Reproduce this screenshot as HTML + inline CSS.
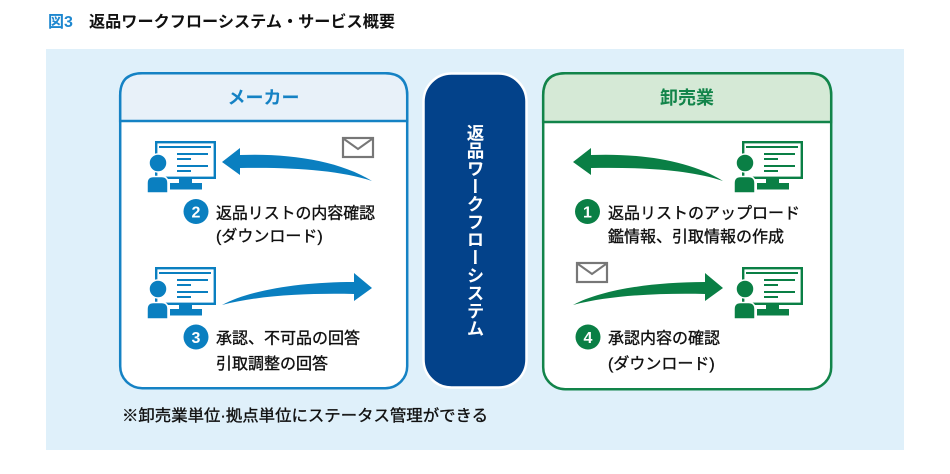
<!DOCTYPE html>
<html><head><meta charset="utf-8">
<style>
html,body{margin:0;padding:0;background:#fff;}
body{width:950px;height:474px;position:relative;overflow:hidden;}
svg{position:absolute;left:0;top:0;}
text{font-family:"Liberation Sans","Noto Sans CJK JP",sans-serif;}
.lb{stroke:#111;stroke-width:0.35px;}
.vt{position:absolute;left:464px;top:124px;width:22px;writing-mode:vertical-rl;font-family:"Noto Sans CJK JP",sans-serif;font-weight:bold;font-size:17.5px;line-height:22px;color:#fff;letter-spacing:0.3px;}
</style></head>
<body>
<svg width="950" height="474" viewBox="0 0 950 474" xmlns="http://www.w3.org/2000/svg">
<defs>
<g id="pc">
 <rect x="156.2" y="142.2" width="58.6" height="35.6" fill="none" stroke="currentColor" stroke-width="2.4"/>
 <rect x="159" y="146" width="52" height="2" fill="currentColor"/>
 <rect x="177" y="153" width="31" height="2" fill="currentColor"/>
 <rect x="177" y="158" width="14" height="2" fill="currentColor"/>
 <rect x="177" y="165" width="31" height="2" fill="currentColor"/>
 <rect x="177" y="170" width="14" height="2" fill="currentColor"/>
 <rect x="179" y="178" width="13" height="6" fill="currentColor"/>
 <rect x="170" y="183" width="32" height="6.5" fill="currentColor"/>
 <path d="M147,193 L147,183 Q147,176.5 153.5,176.5 L161.5,176.5 Q168,176.5 168,183 L168,193 Z" fill="currentColor" stroke="#fff" stroke-width="1.5"/>
 <circle cx="158" cy="163" r="9" fill="currentColor" stroke="#fff" stroke-width="1.5"/>
</g>
<g id="env">
 <rect x="0" y="0" width="30" height="19" fill="#fff" stroke="#777" stroke-width="2.2"/>
 <path d="M1,1 L15,11 L29,1" fill="none" stroke="#777" stroke-width="2"/>
</g>
</defs>

<rect x="46" y="49" width="858" height="401" fill="#dff0fa"/>

<text x="48" y="27" font-size="16" font-weight="bold" fill="#1d87cf">図3</text>
<text x="89" y="27" font-size="16" font-weight="bold" fill="#111" textLength="306" lengthAdjust="spacingAndGlyphs">返品ワークフローシステム・サービス概要</text>

<rect x="120.2" y="73.2" width="287" height="315" rx="22" fill="#fff" stroke="#1582c4" stroke-width="2.5"/>
<path d="M120.2,121 L120.2,95.2 Q120.2,73.2 142.2,73.2 L385.2,73.2 Q407.2,73.2 407.2,95.2 L407.2,121 Z" fill="#e8f1f9" stroke="#1582c4" stroke-width="2.5"/>
<text x="263.5" y="104" font-size="18" font-weight="bold" fill="#1582c4" text-anchor="middle">メーカー</text>

<rect x="543.2" y="73.2" width="288" height="316" rx="22" fill="#fff" stroke="#12844a" stroke-width="2.5"/>
<path d="M543.2,122 L543.2,95.2 Q543.2,73.2 565.2,73.2 L809.2,73.2 Q831.2,73.2 831.2,95.2 L831.2,122 Z" fill="#d5e9d6" stroke="#12844a" stroke-width="2.5"/>
<text x="687" y="104" font-size="18" font-weight="bold" fill="#12844a" text-anchor="middle">卸売業</text>

<rect x="423.5" y="73.5" width="103" height="314" rx="28" fill="#03428a" stroke="#fff" stroke-width="2.5"/>

<use href="#pc" style="color:#0a7fc0"/>
<use href="#pc" transform="translate(0,126)" style="color:#0a7fc0"/>
<use href="#env" transform="translate(343,138)"/>

<path d="M222,162 L240,148 L240,155 C290,153 340,161 372,181 C340,170 290,167 240,168 L240,175 Z" fill="#0a7fc0"/>
<path d="M222,305 C250,290 300,282 354,282 L354,273 L372,288 L354,301 L354,294 C310,293 260,295 222,305 Z" fill="#0a7fc0"/>

<circle cx="196" cy="211.5" r="12.5" fill="#0a7fc0"/>
<text x="196" y="217.5" font-size="16" font-weight="bold" fill="#fff" text-anchor="middle">2</text>
<text class="lb" x="216" y="218.5" font-size="16" fill="#111" textLength="159" lengthAdjust="spacingAndGlyphs">返品リストの内容確認</text>
<text class="lb" x="216" y="241.5" font-size="16" fill="#111">(ダウンロード)</text>

<circle cx="196" cy="337" r="12.5" fill="#0a7fc0"/>
<text x="196" y="343" font-size="16" font-weight="bold" fill="#fff" text-anchor="middle">3</text>
<text class="lb" x="216" y="343.5" font-size="16" fill="#111">承認、不可品の回答</text>
<text class="lb" x="216" y="369" font-size="16" fill="#111">引取調整の回答</text>

<use href="#pc" transform="translate(587,0)" style="color:#0a7f45"/>
<use href="#pc" transform="translate(587,126)" style="color:#0a7f45"/>
<use href="#env" transform="translate(577,263)"/>

<path d="M573,162 L591,148 L591,155 C641,153 691,161 723,181 C691,170 641,167 591,168 L591,175 Z" fill="#0a7f45"/>
<path d="M573,305 C601,290 651,282 705,282 L705,273 L723,288 L705,301 L705,294 C661,293 611,295 573,305 Z" fill="#0a7f45"/>

<circle cx="587.5" cy="211.5" r="12.5" fill="#0a7f45"/>
<text x="587.5" y="217.5" font-size="16" font-weight="bold" fill="#fff" text-anchor="middle">1</text>
<text class="lb" x="608" y="218.5" font-size="16" fill="#111">返品リストのアップロード</text>
<text class="lb" x="608" y="242" font-size="16" fill="#111">鑑情報、引取情報の作成</text>

<circle cx="588" cy="337" r="12.5" fill="#0a7f45"/>
<text x="588" y="343" font-size="16" font-weight="bold" fill="#fff" text-anchor="middle">4</text>
<text class="lb" x="608" y="343.5" font-size="16" fill="#111">承認内容の確認</text>
<text class="lb" x="608" y="369" font-size="16" fill="#111">(ダウンロード)</text>

<text class="lb" x="122" y="421" font-size="16" fill="#111" textLength="366" lengthAdjust="spacingAndGlyphs">※卸売業単位·拠点単位にステータス管理ができる</text>
</svg>
<div class="vt">返品ワークフローシステム</div>
</body></html>
